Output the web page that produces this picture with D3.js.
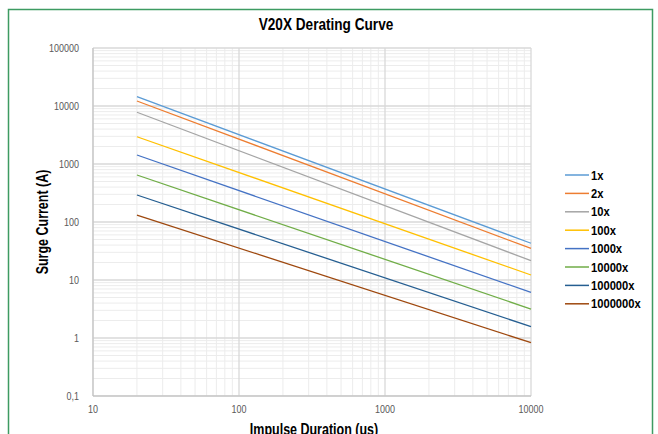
<!DOCTYPE html>
<html>
<head>
  <script src="https://cdn.jsdelivr.net/npm/d3@7"></script>
  <style>
    body { margin: 0; background: #fff; }
    text { font-family: "Liberation Sans", Arial, sans-serif; }
  </style>
</head>
<body>
  <script>

  var width = 658
  var height = 434

  // data: each derating curve runs from 20 us to 10000 us
  var durations = [20, 10000];
  var seriesNames = ["1x", "2x", "10x", "100x", "1000x", "10000x", "100000x", "1000000x"];
  var startValues = [14500, 12200, 7800, 2950, 1430, 646, 292, 132];
  var endValues = [43, 35, 21.5, 12.2, 6.1, 3.16, 1.57, 0.83];
  var colors = ["#5b9bd5", "#ed7d31", "#a5a5a5", "#ffc000", "#4472c4", "#70ad47", "#255e91", "#9e480e"];
  var xTicks = [10, 100, 1000, 10000];
  var yTicks = [0.1, 1, 10, 100, 1000, 10000, 100000];

  var margin = {left: 93, right: 127, top: 48, bottom: 38};

  var x = d3.scaleLog().domain([10, 10000]).range([margin.left, width - margin.right]);
  var y = d3.scaleLog().domain([0.1, 100000]).range([height - margin.bottom, margin.top]);

  // squeeze text to look like a narrow font
  function narrow(sel, f) {
    sel.each(function() {
      var w = this.getComputedTextLength();
      d3.select(this).attr("textLength", w * f).attr("lengthAdjust", "spacingAndGlyphs");
    });
  }

  var svg = d3.select('body').append("svg")
    .attr("width", width)
    .attr("height", height);

  // frame
  svg.append("rect")
    .attr("x", 8.5).attr("y", 9.5)
    .attr("width", 644).attr("height", 440)
    .attr("fill", "none")
    .attr("stroke", "#3d9b62")
    .attr("stroke-width", 1.5);

  svg.append("text")
    .attr("x", 326).attr("y", 30)
    .attr("text-anchor", "middle")
    .attr("font-size", 17)
    .attr("font-weight", "bold")
    .text("V20X Derating Curve")
    .call(narrow, 0.8);

  // minor grid
  var minorX = [], minorY = [];
  for (var d = 10; d < 10000; d *= 10)
    for (var k = 2; k < 10; k++) minorX.push(d * k);
  for (var d = 0.1; d < 100000; d *= 10)
    for (var k = 2; k < 10; k++) minorY.push(d * k);

  var grid = svg.append("g");
  grid.selectAll(".mx").data(minorX).enter().append("line")
    .attr("x1", function(d) { return x(d); }).attr("x2", function(d) { return x(d); })
    .attr("y1", y(0.1)).attr("y2", y(100000))
    .attr("stroke", "#ececec");
  grid.selectAll(".my").data(minorY).enter().append("line")
    .attr("y1", function(d) { return y(d); }).attr("y2", function(d) { return y(d); })
    .attr("x1", x(10)).attr("x2", x(10000))
    .attr("stroke", "#ececec");
  // major grid
  grid.selectAll(".Mx").data(xTicks).enter().append("line")
    .attr("x1", function(d) { return x(d); }).attr("x2", function(d) { return x(d); })
    .attr("y1", y(0.1)).attr("y2", y(100000))
    .attr("stroke", "#d9d9d9").attr("stroke-width", 1.3);
  grid.selectAll(".My").data(yTicks).enter().append("line")
    .attr("y1", function(d) { return y(d); }).attr("y2", function(d) { return y(d); })
    .attr("x1", x(10)).attr("x2", x(10000))
    .attr("stroke", "#d9d9d9").attr("stroke-width", 1.3);

  // axis lines
  svg.append("line")
    .attr("x1", x(10)).attr("x2", x(10)).attr("y1", y(0.1)).attr("y2", y(100000))
    .attr("stroke", "#bfbfbf");
  svg.append("line")
    .attr("x1", x(10)).attr("x2", x(10000)).attr("y1", y(0.1)).attr("y2", y(0.1))
    .attr("stroke", "#bfbfbf");

  // tick labels
  svg.selectAll(".xt").data(xTicks).enter().append("text")
    .attr("x", function(d) { return x(d); })
    .attr("y", y(0.1) + 17)
    .attr("text-anchor", "middle")
    .attr("font-size", 11.5)
    .attr("fill", "#595959")
    .text(function(d) { return d; })
    .call(narrow, 0.78);
  svg.selectAll(".yt").data(yTicks).enter().append("text")
    .attr("x", x(10) - 14)
    .attr("y", function(d) { return y(d) + 4; })
    .attr("text-anchor", "end")
    .attr("font-size", 11.5)
    .attr("fill", "#595959")
    .text(function(d) { return d < 1 ? String(d).replace(".", ",") : d; })
    .call(narrow, 0.78);

  svg.append("text")
    .attr("x", 314).attr("y", 435)
    .attr("text-anchor", "middle")
    .attr("font-size", 16)
    .attr("font-weight", "bold")
    .text("Impulse Duration (us)")
    .call(narrow, 0.78);
  svg.append("text")
    .attr("transform", "translate(48," + ((y(0.1) + y(100000)) / 2) + ") rotate(-90)")
    .attr("text-anchor", "middle")
    .attr("font-size", 16)
    .attr("font-weight", "bold")
    .text("Surge Current (A)")
    .call(narrow, 0.78);

  // curves
  var series = seriesNames.map(function(name, i) {
    return { name: name, color: colors[i],
             points: [[durations[0], startValues[i]], [durations[1], endValues[i]]] };
  });

  var line = d3.line()
    .x(function(p) { return x(p[0]); })
    .y(function(p) { return y(p[1]); });

  svg.selectAll(".curve").data(series).enter().append("path")
    .attr("d", function(d) { return line(d.points); })
    .attr("fill", "none")
    .attr("stroke", function(d) { return d.color; })
    .attr("stroke-width", 1.3);

  // legend
  var legend = svg.selectAll(".leg").data(series).enter().append("g")
    .attr("transform", function(d, i) { return "translate(565," + (175 + i * 18.4) + ")"; });
  legend.append("line")
    .attr("x1", 0).attr("x2", 24)
    .attr("stroke", function(d) { return d.color; })
    .attr("stroke-width", 1.5);
  legend.append("text")
    .attr("x", 26).attr("y", 4.5)
    .attr("font-size", 13)
    .attr("font-weight", "bold")
    .text(function(d) { return d.name; })
    .call(narrow, 0.86);

  </script>
</body>
</html>
